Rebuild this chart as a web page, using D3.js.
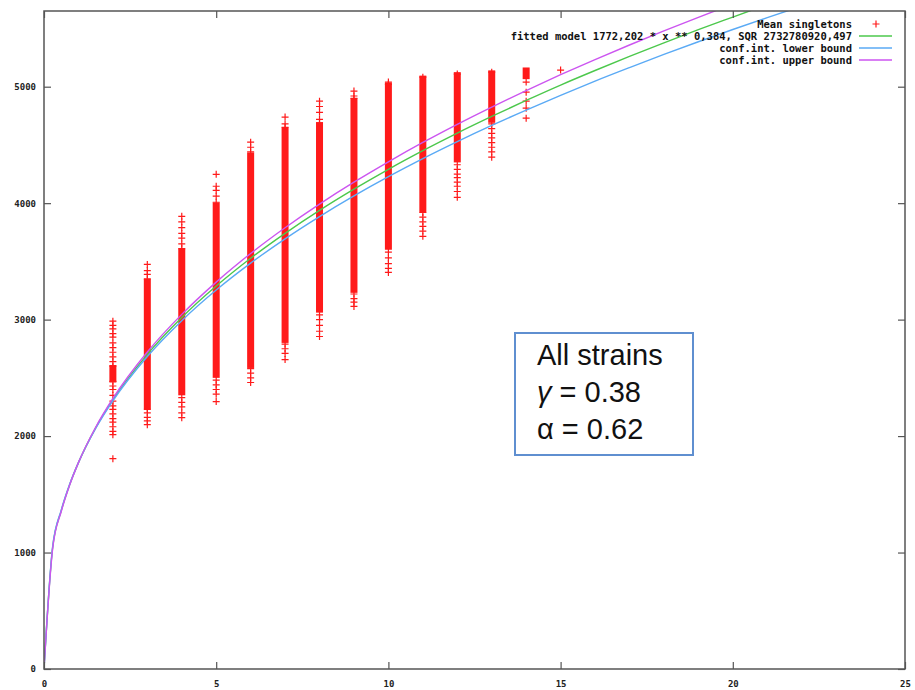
<!DOCTYPE html>
<html>
<head>
<meta charset="utf-8">
<script src="https://cdn.jsdelivr.net/npm/d3@7"></script>
<style>
  body { margin: 0; background: #fff; }
  svg { display: block; }
  .tick text { font-family: "DejaVu Sans Mono", monospace; font-weight: bold; font-size: 9px; fill: #222; }
  .legend text { font-family: "DejaVu Sans Mono", monospace; font-weight: bold; font-size: 10.5px; fill: #111; }
</style>
</head>
<body>
<svg id="chart" width="915" height="690"></svg>
<script>
// axis ticks
const xTicks = [0, 5, 10, 15, 20, 25];
const yTicks = [0, 1000, 2000, 3000, 4000, 5000];

// curves (fit and confidence bounds)
const fitX   = [0, 0.25, 0.5, 0.75, 1, 1.5, 2, 3, 4, 5, 6, 7, 8, 9, 10, 11, 12, 13, 14, 15, 16, 17, 18, 19, 20, 21];
const fitY   = [0, 1041, 1358, 1587, 1772, 2071, 2313, 2702, 3018, 3288, 3527, 3741, 3938, 4120, 4291, 4451, 4602, 4745, 4882, 5014, 5139, 5260, 5377, 5490, 5598, 5705];
const lowX   = [0, 0.25, 0.5, 0.75, 1, 1.5, 2, 3, 4, 5, 6, 7, 8, 9, 10, 11, 12, 13, 14, 15, 16, 17, 18, 19, 20, 21, 22, 23];
const lowY   = [0, 1050, 1364, 1590, 1772, 2065, 2302, 2683, 2991, 3254, 3485, 3694, 3885, 4062, 4227, 4382, 4528, 4667, 4799, 4926, 5048, 5164, 5277, 5386, 5491, 5593, 5692, 5789];
const upX    = [0, 0.25, 0.5, 0.75, 1, 1.5, 2, 3, 4, 5, 6, 7, 8, 9, 10, 11, 12, 13, 14, 15, 16, 17, 18, 19, 20, 21];
const upY    = [0, 1031, 1352, 1584, 1772, 2076, 2323, 2722, 3045, 3322, 3568, 3789, 3992, 4180, 4355, 4521, 4677, 4825, 4967, 5103, 5233, 5358, 5479, 5596, 5709, 5819];

// dense parts of the "Mean singletons" columns
const bandX  = [2, 3, 4, 5, 6, 7, 8, 9, 10, 11, 12, 13, 14];
const bandLo = [2490, 2260, 2380, 2530, 2615, 2830, 3090, 3260, 3630, 3950, 4380, 4720, 5095];
const bandHi = [2580, 3320, 3580, 3975, 4405, 4620, 4665, 4870, 5005, 5065, 5095, 5110, 5135];

// sparse singleton points, per column
const singleX = [2, 3, 4, 5, 6, 7, 8, 9, 10, 11, 12, 13, 14, 15];
const singleY = [
  [2987, 2950, 2920, 2880, 2850, 2800, 2760, 2720, 2680, 2640, 2600, 2470, 2430, 2400, 2350, 2300, 2260, 2230, 2190, 2150, 2120, 2080, 2040, 2012, 1806],
  [3474, 3420, 3388, 3350, 2230, 2200, 2160, 2130, 2098],
  [3887, 3840, 3790, 3740, 3700, 3650, 3610, 2330, 2290, 2250, 2200, 2158],
  [4248, 4145, 4110, 4060, 4008, 2480, 2440, 2400, 2360, 2296],
  [4524, 4480, 4440, 2580, 2540, 2500, 2460],
  [4739, 4680, 4650, 2790, 2750, 2710, 2657],
  [4876, 4830, 4780, 4720, 4690, 3040, 3000, 2950, 2900, 2855],
  [4962, 4920, 4900, 3220, 3180, 3150, 3113],
  [5040, 5020, 3580, 3530, 3480, 3440, 3405],
  [5082, 3920, 3880, 3840, 3800, 3760, 3715],
  [5108, 4330, 4290, 4250, 4220, 4180, 4145, 4100, 4050],
  [5125, 4680, 4640, 4600, 4560, 4520, 4480, 4440, 4395],
  [5040, 4953, 4876, 4816, 4730],
  [5143]
];

const legendLabels = [
  "Mean singletons",
  "fitted model 1772,202 * x ** 0,384, SQR 2732780920,497",
  "conf.int. lower bound",
  "conf.int. upper bound"
];
const boxLines = ["All strains", "γ = 0.38", "α = 0.62"];

const svg = d3.select("#chart");
const plotL = 44, plotR = 905, plotT = 11, plotB = 669;

const x = d3.scaleLinear().domain([0, 25]).range([plotL, plotR]);
const y = d3.scaleLinear().domain([0, 5650]).range([plotB, plotT]);

const red = "#ff1a1a", green = "#4cc84c", blue = "#5aaaf5", magenta = "#cc55f0";

svg.append("clipPath").attr("id", "plot-clip")
   .append("rect")
   .attr("x", plotL).attr("y", plotT)
   .attr("width", plotR - plotL).attr("height", plotB - plotT);

// points
const plusPath = (cx, cy, s) => `M${cx - s},${cy}H${cx + s}M${cx},${cy - s}V${cy + s}`;

const pts = svg.append("g");
bandX.forEach((bx, i) => {
    pts.append("rect")
       .attr("x", x(bx) - 3.5)
       .attr("y", y(bandHi[i]) - 3.5)
       .attr("width", 7)
       .attr("height", y(bandLo[i]) - y(bandHi[i]) + 7)
       .attr("fill", red);
});
singleX.forEach((sx, i) => {
    singleY[i].forEach(v => {
        pts.append("path")
           .attr("d", plusPath(x(sx), y(v), 3.5))
           .attr("stroke", red)
           .attr("stroke-width", 1.2)
           .attr("fill", "none");
    });
});

// curves
const line = d3.line()
               .x(d => x(d[0]))
               .y(d => y(d[1]))
               .curve(d3.curveMonotoneX);

const curves = [
    {xs: fitX, ys: fitY, color: green},
    {xs: lowX, ys: lowY, color: blue},
    {xs: upX,  ys: upY,  color: magenta}
];
const lines = svg.append("g").attr("clip-path", "url(#plot-clip)");
curves.forEach(c => {
    lines.append("path")
         .datum(c.xs.map((v, i) => [v, c.ys[i]]))
         .attr("d", line)
         .attr("fill", "none")
         .attr("stroke", c.color)
         .attr("stroke-width", 1.4);
});

// axes, ticks pointing inward on all four sides
const axisColor = "#555";
const styleAxis = g => {
    g.select(".domain").remove();
    g.selectAll(".tick line").attr("stroke", axisColor).attr("stroke-width", 1.2);
};

svg.append("g")
   .attr("transform", `translate(0,${plotB})`)
   .call(d3.axisBottom(x).tickValues(xTicks).tickSize(-7).tickPadding(12).tickFormat(d3.format("d")))
   .call(styleAxis);

svg.append("g")
   .attr("transform", `translate(0,${plotT})`)
   .call(d3.axisTop(x).tickValues(xTicks).tickSize(-7).tickFormat(""))
   .call(styleAxis);

svg.append("g")
   .attr("transform", `translate(${plotL},0)`)
   .call(d3.axisLeft(y).tickValues(yTicks).tickSize(-7).tickPadding(8).tickFormat(d3.format("d")))
   .call(styleAxis);

svg.append("g")
   .attr("transform", `translate(${plotR},0)`)
   .call(d3.axisRight(y).tickValues(yTicks).tickSize(-7).tickFormat(""))
   .call(styleAxis);

svg.append("rect")
   .attr("x", plotL).attr("y", plotT)
   .attr("width", plotR - plotL).attr("height", plotB - plotT)
   .attr("fill", "none")
   .attr("stroke", axisColor)
   .attr("stroke-width", 1.5);

// legend (top right, gnuplot style)
const legend = svg.append("g").attr("class", "legend");
const legendColors = [red, green, blue, magenta];
legendLabels.forEach((label, i) => {
    const ly = 24 + i * 12;
    legend.append("text")
          .attr("x", 852)
          .attr("y", ly)
          .attr("dy", "0.35em")
          .attr("text-anchor", "end")
          .text(label);
    if (i === 0) {
        legend.append("path")
              .attr("d", plusPath(876, ly, 3.5))
              .attr("stroke", red)
              .attr("stroke-width", 1.2);
    } else {
        legend.append("line")
              .attr("x1", 859).attr("x2", 892)
              .attr("y1", ly).attr("y2", ly)
              .attr("stroke", legendColors[i])
              .attr("stroke-width", 1.4);
    }
});

// annotation box
const box = svg.append("g");
box.append("rect")
   .attr("x", 515).attr("y", 333)
   .attr("width", 178).attr("height", 122)
   .attr("fill", "#fff")
   .attr("stroke", "#5f8fd0")
   .attr("stroke-width", 2);

boxLines.forEach((t, i) => {
    const txt = box.append("text")
       .attr("x", 537)
       .attr("y", 365 + i * 37)
       .attr("font-family", "Liberation Sans, Arial, sans-serif")
       .attr("font-size", 29)
       .attr("fill", "#111");
    if (i === 1) {
        txt.append("tspan").attr("font-style", "italic").text("γ");
        txt.append("tspan").text(" = 0.38");
    } else {
        txt.text(t);
    }
});
</script>
</body>
</html>
